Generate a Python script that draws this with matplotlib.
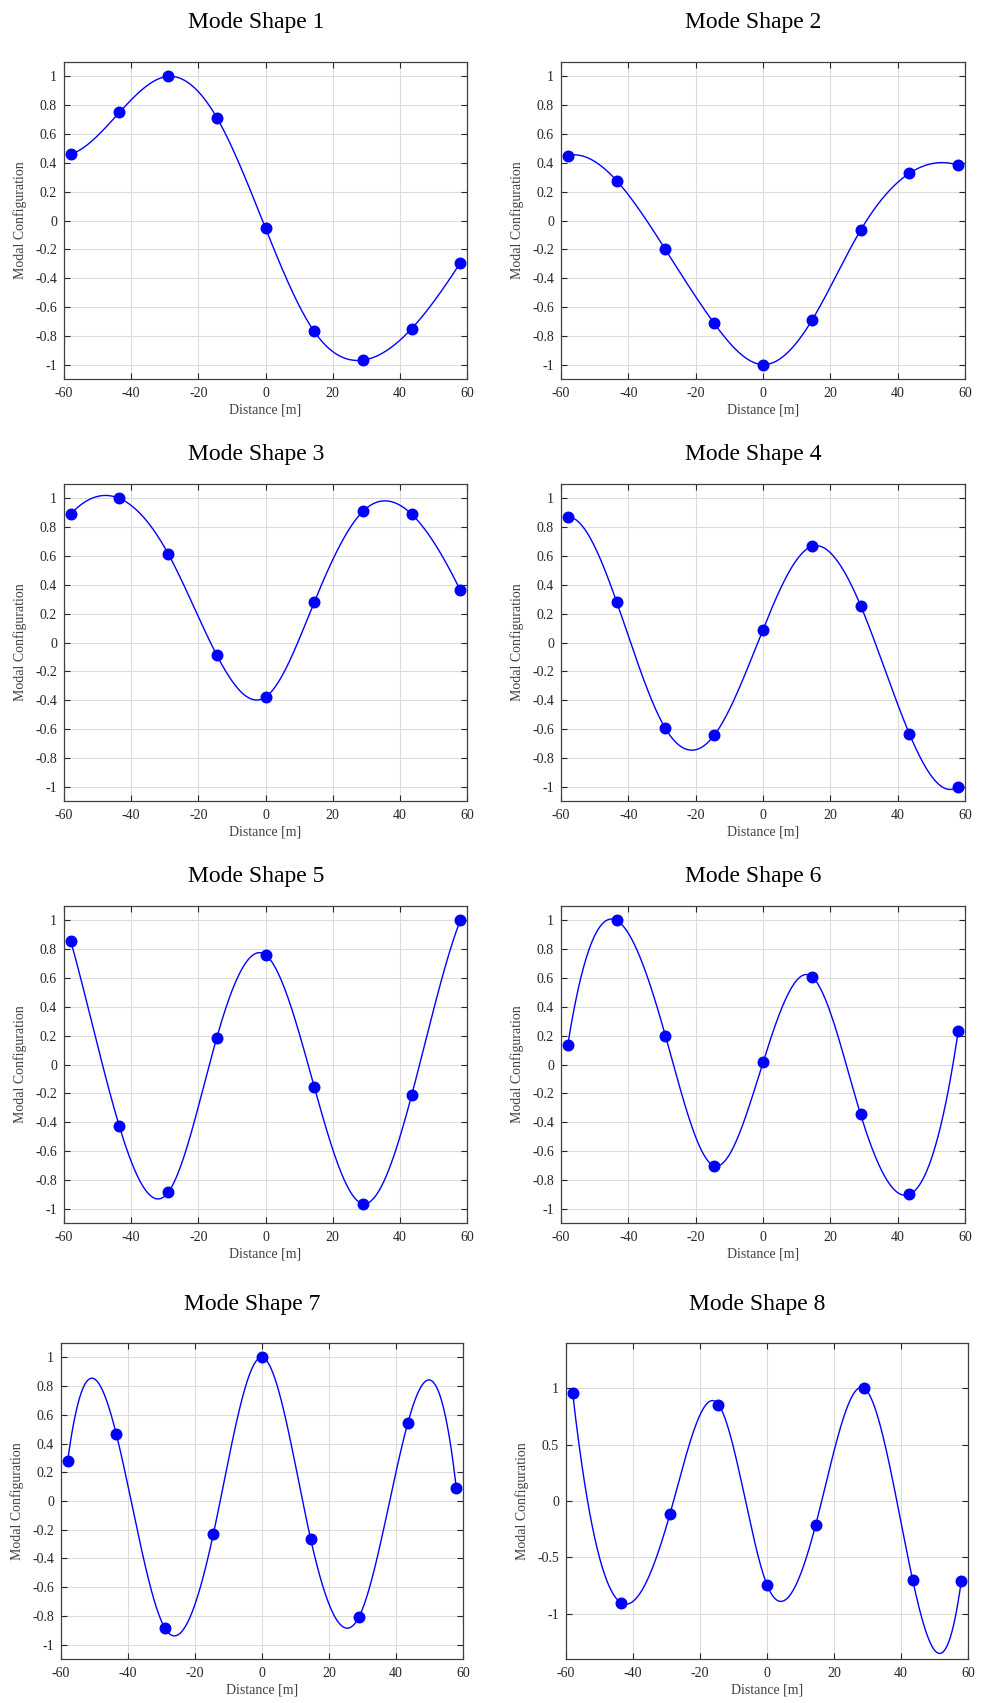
import numpy as np
import matplotlib
matplotlib.use("Agg")
import matplotlib.pyplot as plt
from matplotlib.ticker import FuncFormatter

plt.rcParams['font.family'] = ['Liberation Serif', 'DejaVu Serif']
plt.rcParams['axes.unicode_minus'] = False

# sensor positions along the deck
distance = [-58, -43.5, -29, -14.5, 0, 14.5, 29, 43.5, 58]

# normalised modal ordinates at each sensor
mode1 = [0.46, 0.75, 1.00, 0.714, -0.053, -0.77, -0.969, -0.751, -0.294]
mode2 = [0.451, 0.277, -0.201, -0.714, -1.00, -0.694, -0.067, 0.328, 0.384]
mode3 = [0.891, 1.00, 0.617, -0.088, -0.379, 0.279, 0.910, 0.891, 0.363]
mode4 = [0.871, 0.284, -0.596, -0.644, 0.090, 0.667, 0.256, -0.635, -1.00]
mode5 = [0.858, -0.430, -0.888, 0.187, 0.761, -0.153, -0.966, -0.215, 1.00]
mode6 = [0.134, 1.00, 0.201, -0.703, 0.014, 0.610, -0.347, -0.902, 0.234]
mode7 = [0.281, 0.466, -0.884, -0.227, 1.00, -0.262, -0.805, 0.541, 0.090]
mode8 = [0.953, -0.903, -0.118, 0.855, -0.743, -0.215, 1.00, -0.702, -0.708]

modes = [mode1, mode2, mode3, mode4, mode5, mode6, mode7, mode8]
titles = ["Mode Shape %d" % (i + 1) for i in range(8)]
ylims = [1.1] * 7 + [1.4]


def spline_notaknot(x, y, xs):
    # cubic spline with not-a-knot end conditions
    x = np.asarray(x, float)
    y = np.asarray(y, float)
    n = len(x)
    h = np.diff(x)
    A = np.zeros((n, n))
    b = np.zeros(n)
    for i in range(1, n - 1):
        A[i, i - 1] = h[i - 1]
        A[i, i] = 2 * (h[i - 1] + h[i])
        A[i, i + 1] = h[i]
        b[i] = 6 * ((y[i + 1] - y[i]) / h[i] - (y[i] - y[i - 1]) / h[i - 1])
    A[0, 0:3] = [h[1], -(h[0] + h[1]), h[0]]
    A[-1, -3:] = [h[-1], -(h[-2] + h[-1]), h[-2]]
    M = np.linalg.solve(A, b)
    k = np.clip(np.searchsorted(x, xs) - 1, 0, n - 2)
    hk = h[k]
    a = x[k + 1] - xs
    c = xs - x[k]
    return (M[k] * a ** 3 / (6 * hk) + M[k + 1] * c ** 3 / (6 * hk)
            + (y[k] / hk - M[k] * hk / 6) * a + (y[k + 1] / hk - M[k + 1] * hk / 6) * c)


W, H = 988, 1703
fig = plt.figure(figsize=(W / 100, H / 100), dpi=100)

# axes boxes in pixels: left, right, top, bottom
boxes = [
    (64, 467, 62, 379), (561, 965, 62, 379),
    (64, 467, 484, 801), (561, 965, 484, 801),
    (64, 467, 906, 1223), (561, 965, 906, 1223),
    (61, 463, 1343, 1659), (566, 968, 1343, 1659),
]
title_pads = [24.5, 24.5, 17.5, 17.5, 17.5, 17.5, 24, 24]

fmt = FuncFormatter(lambda v, p: "%g" % (round(v, 3) + 0.0))
xs = np.linspace(distance[0], distance[-1], 600)
axcol = '#262626'

for i, (y, box) in enumerate(zip(modes, boxes)):
    l, r, t, bt = box
    ax = fig.add_axes([l / W, 1 - bt / H, (r - l) / W, (bt - t) / H])
    ax.plot(xs, spline_notaknot(distance, y, xs), color='#0000ff', lw=1.0)
    ax.plot(distance, y, 'o', color='#0000ff', ms=7.6, mec='#0000ff')
    ax.set_xlim(-60, 60)
    ax.set_ylim(-ylims[i], ylims[i])
    ax.set_xticks(np.arange(-60, 61, 20))
    if i == 7:
        ax.set_yticks([-1, -0.5, 0, 0.5, 1])
    else:
        ax.set_yticks(np.round(np.arange(-1, 1.01, 0.2), 1))
    ax.xaxis.set_major_formatter(fmt)
    ax.yaxis.set_major_formatter(fmt)
    ax.grid(True, color='#dcdcdc', lw=0.8)
    ax.set_axisbelow(True)
    ax.tick_params(direction='in', top=True, right=True, length=4, width=0.8,
                   colors=axcol, labelsize=10, labelcolor=axcol)
    ax.tick_params(axis='x', pad=6)
    ax.tick_params(axis='y', pad=5)
    for s in ax.spines.values():
        s.set_color('#404040')
        s.set_linewidth(0.9)
    ax.set_xlabel("Distance [m]", fontsize=10, color='#404040', labelpad=2)
    ax.set_ylabel("Modal Configuration", fontsize=10, color='#404040', labelpad=6)
    ax.set_title(titles[i], fontsize=17, x=0.476, pad=title_pads[i], color='black')

fig.savefig("out.png", dpi=100)
